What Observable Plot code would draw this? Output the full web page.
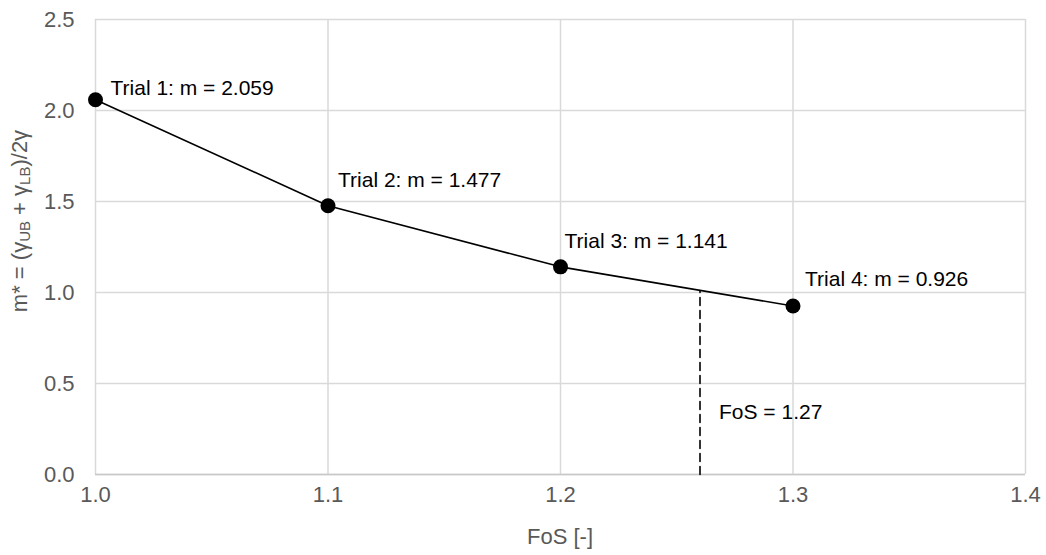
<!DOCTYPE html>
<html>
<head>
<meta charset="utf-8">
<script src="https://cdn.jsdelivr.net/npm/d3@7"></script>
<script src="https://cdn.jsdelivr.net/npm/@observablehq/plot@0.6"></script>
<style>
  html, body { margin: 0; padding: 0; background: #fff; }
  #chart svg { display: block; font-family: "Liberation Sans", Arial, sans-serif; }
</style>
</head>
<body>
<div id="chart"></div>
<script>
// Trial results: factor of safety vs. mean strength ratio m
const fos = [1.0, 1.1, 1.2, 1.3];
const mValues = [2.059, 1.477, 1.141, 0.926];
const trialNames = ["Trial 1", "Trial 2", "Trial 3", "Trial 4"];

// Interpolated crossing of m* = 1 (dashed marker)
const fosCross = [1.26];
const mCross = [1.01];
const fosLabel = "FoS = 1.27";
const fosLabelY = [0.34];

const xTicks = [1.0, 1.1, 1.2, 1.3, 1.4];
const yTicks = [0, 0.5, 1.0, 1.5, 2.0, 2.5];

const trials = fos.map((x, i) => ({x, m: mValues[i], name: trialNames[i]}));
const crossLine = [{x: fosCross[0], y: 0}, {x: fosCross[0], y: mCross[0]}];

// Per-label placement of the trial annotations (pixels from the point)
const labelShift = [[15, -11], [10, -25], [4, -26], [12, -27]];

const W = 1046, H = 555;
const ML = 95, MR = 21, MT = 19, MB = 81;
const FONT = "'Liberation Sans', Arial, sans-serif";

const chart = Plot.plot({
  width: W,
  height: H,
  marginLeft: ML,
  marginRight: MR,
  marginTop: MT,
  marginBottom: MB,
  style: {fontSize: "22px", fontFamily: FONT, background: "#fff"},
  x: {domain: [1.0, 1.4], label: null},
  y: {domain: [0, 2.5], label: null},
  marks: [
    Plot.gridX(xTicks, {stroke: "#d9d9d9", strokeOpacity: 1, strokeWidth: 1.5}),
    Plot.gridY(yTicks, {stroke: "#d9d9d9", strokeOpacity: 1, strokeWidth: 1.5}),
    Plot.ruleY([0], {stroke: "#c8c8c8", strokeWidth: 1.5}),
    Plot.axisX({ticks: xTicks, tickFormat: d3.format(".1f"), tickSize: 0, tickPadding: 12, fill: "#595959", fontSize: 22, label: null}),
    Plot.axisY({ticks: yTicks, tickFormat: d3.format(".1f"), tickSize: 0, tickPadding: 21, fill: "#595959", fontSize: 22, label: null}),
    Plot.line(crossLine, {x: "x", y: "y", stroke: "#000", strokeWidth: 1.6, strokeDasharray: "8,5"}),
    Plot.line(trials, {x: "x", y: "m", stroke: "#000", strokeWidth: 1.6}),
    Plot.dot(trials, {x: "x", y: "m", r: 7.5, fill: "#000", stroke: "none"}),
    ...trials.map((d, i) => Plot.text([d], {
      x: "x", y: "m",
      text: t => `${t.name}: m = ${t.m.toFixed(3)}`,
      textAnchor: "start", dx: labelShift[i][0], dy: labelShift[i][1],
      fill: "#000", fontSize: 21
    })),
    Plot.text([fosLabel], {x: fosCross[0], y: fosLabelY[0], textAnchor: "start", dx: 19, fill: "#000", fontSize: 21})
  ]
});

document.getElementById("chart").appendChild(chart);

// Axis titles (the y title needs subscripts, drawn as tspans)
const svg = d3.select(chart);
svg.append("text")
  .attr("x", 560)
  .attr("y", 538)
  .attr("text-anchor", "middle")
  .attr("dominant-baseline", "middle")
  .attr("fill", "#595959")
  .attr("font-size", 22)
  .text("FoS [-]");

const yt = svg.append("text")
  .attr("transform", "translate(21, 221) rotate(-90)")
  .attr("text-anchor", "middle")
  .attr("dominant-baseline", "middle")
  .attr("fill", "#595959")
  .attr("font-size", 22);
yt.append("tspan").text("m* = (γ");
yt.append("tspan").attr("font-size", 15).attr("dy", 5).text("UB");
yt.append("tspan").attr("dy", -5).text(" + γ");
yt.append("tspan").attr("font-size", 15).attr("dy", 5).text("LB");
yt.append("tspan").attr("dy", -5).text(")/2γ");
</script>
</body>
</html>
